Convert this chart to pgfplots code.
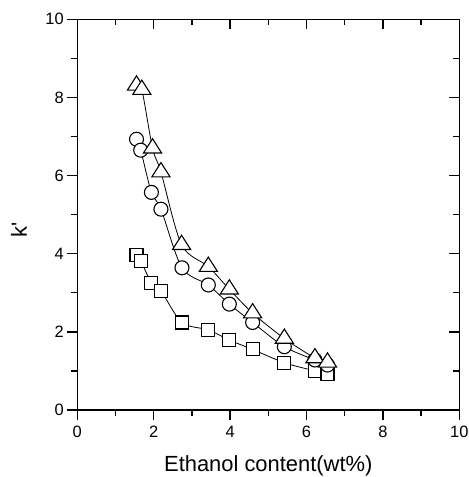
\documentclass[border=0pt]{standalone}
\usepackage{fontspec}
\setmainfont{Liberation Sans}
\usepackage{pgfplots}
\pgfplotsset{compat=1.18}
\begin{document}
\begin{tikzpicture}
\useasboundingbox (-77.3bp,-67bp) rectangle (391.7bp,410bp);
\pgfplotsset{
  common/.style={
    at={(0,0)}, anchor=south west,
    scale only axis, width=382bp, height=390.7bp,
    xmin=0, xmax=10, ymin=0, ymax=10,
    xtick={0,2,...,10}, ytick={0,2,...,10},
    minor xtick={1,3,...,9}, minor ytick={1,3,...,9},
    major tick length=10bp, minor tick length=6bp,
    axis line style={line width=1.3bp},
    every tick/.style={black, line width=1.3bp},
  }
}
\begin{axis}[
  common,
  tick align=outside, xtick pos=bottom, ytick pos=left,
  ticklabel style={font=\fontsize{16.5}{16.5}\selectfont},
  xticklabel style={yshift=-3bp},
  /pgf/number format/assume math mode=true,
  xlabel={Ethanol content(wt\%)}, ylabel={k\textquotesingle},
  label style={font=\fontsize{22}{22}\selectfont},
  xlabel style={at={(axis description cs:0.5,-0.158)}, anchor=base},
  ylabel style={at={(axis description cs:-0.1317,0.46)}, anchor=base},
]
\addplot[black, line width=0.8bp, smooth, mark=square*, mark size=6.5bp,
  mark options={fill=white, line width=1.1bp, solid}] coordinates {
  (1.55,3.97)(1.66,3.82)(1.94,3.26)(2.19,3.05)(2.74,2.24)(3.43,2.05)
  (3.98,1.79)(4.59,1.55)(5.42,1.21)(6.22,1.00)(6.55,0.92)};
\addplot[black, line width=0.8bp, smooth, mark=*, mark size=7bp,
  mark options={fill=white, line width=1.1bp, solid}] coordinates {
  (1.55,6.93)(1.66,6.65)(1.94,5.57)(2.19,5.14)(2.74,3.64)(3.43,3.20)
  (3.98,2.71)(4.59,2.24)(5.42,1.62)(6.22,1.28)(6.55,1.15)};
\addplot[black, line width=0.8bp, smooth, mark=triangle*, mark size=9.5bp,
  mark options={fill=white, line width=1.1bp, solid, xscale=1.1}] coordinates {
  (1.55,8.31)(1.69,8.20)(1.97,6.70)(2.19,6.09)(2.73,4.23)(3.43,3.67)
  (3.98,3.09)(4.59,2.48)(5.42,1.83)(6.22,1.33)(6.55,1.22)};
\end{axis}
\begin{axis}[
  common,
  tick align=inside, xtick pos=top, ytick pos=right,
  xticklabels={}, yticklabels={},
]
\end{axis}
\end{tikzpicture}
\end{document}
